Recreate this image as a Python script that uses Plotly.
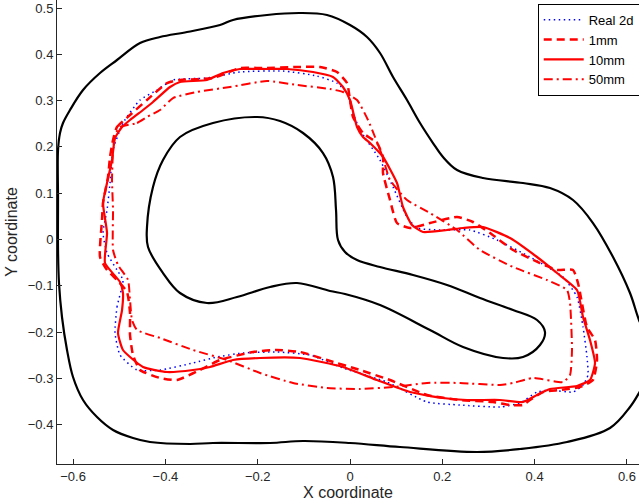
import plotly.graph_objects as go

# ---- data (data units) ----
outer_x = [-0.6327, -0.6327, -0.6327, -0.6284, -0.6219, -0.6067, -0.5785, -0.5417, -0.5049, -0.4550,
           -0.4117, -0.3532, -0.2817, -0.2535, -0.1798, -0.1083, -0.0498, 0.0000, 0.0368, 0.0650,
           0.0932, 0.1235, 0.1517, 0.1798, 0.2015, 0.2319, 0.2882, 0.3749, 0.4334, 0.4832,
           0.5265, 0.5699, 0.6067, 0.6262, 0.6544, 0.6457, 0.6262, 0.6067, 0.5634, 0.4702,
           0.3684, 0.2752, 0.1083, 0.0000, -0.1018, -0.1733, -0.2969, -0.3467, -0.4334, -0.4702,
           -0.5135, -0.5482, -0.5785, -0.6002, -0.6132, -0.6241, -0.6306]
outer_y = [-0.0227, 0.0853, 0.1933, 0.2300, 0.2516, 0.2797, 0.3229, 0.3596, 0.3877, 0.4244,
           0.4374, 0.4482, 0.4633, 0.4741, 0.4849, 0.4892, 0.4849, 0.4633, 0.4374, 0.4028,
           0.3510, 0.3013, 0.2516, 0.2084, 0.1782, 0.1501, 0.1328, 0.1220, 0.1112, 0.0853,
           0.0356, -0.0378, -0.1156, -0.1739, -0.2387, -0.2927, -0.3315, -0.3618, -0.4071, -0.4374,
           -0.4525, -0.4590, -0.4482, -0.4395, -0.4352, -0.4395, -0.4395, -0.4417, -0.4374, -0.4287,
           -0.4114, -0.3834, -0.3467, -0.2970, -0.2387, -0.1674, -0.0940]

inner_x = [-0.2015, -0.1517, -0.1018, -0.0585, -0.0368, -0.0303, -0.0260, -0.0108, 0.0152, 0.0650,
           0.1365, 0.2102, 0.2817, 0.3532, 0.4052, 0.4225, 0.4117, 0.3749, 0.3315, 0.2449,
           0.1733, 0.0650, -0.0108, -0.0433, -0.1148, -0.1733, -0.2449, -0.3099, -0.3684, -0.4052,
           -0.4377, -0.4399, -0.4269, -0.4052, -0.3684, -0.2969]
inner_y = [0.2646, 0.2559, 0.2300, 0.1868, 0.1350, 0.0637, -0.0011, -0.0270, -0.0443, -0.0594,
           -0.0767, -0.0983, -0.1264, -0.1523, -0.1739, -0.1998, -0.2279, -0.2538, -0.2559, -0.2322,
           -0.1955, -0.1415, -0.1177, -0.1112, -0.0940, -0.1026, -0.1242, -0.1372, -0.1156, -0.0724,
           -0.0162, 0.0270, 0.1134, 0.1717, 0.2214, 0.2516]

real_x = [-0.5092, -0.5049, -0.4919, -0.5049, -0.5265, -0.5352, -0.5265, -0.5200, -0.5135, -0.4919,
          -0.4550, -0.4182, -0.3835, -0.3099, -0.2384, -0.1452, -0.0715, -0.0282, -0.0065, 0.0065,
          0.0217, 0.0650, 0.0932, 0.1235, 0.1452, 0.1950, 0.2600, 0.3185, 0.3900, 0.4615,
          0.4919, 0.5049, 0.5135, 0.5157, 0.5049, 0.4832, 0.4334, 0.4052, 0.3684, 0.3250,
          0.2384, 0.1668, 0.0802, -0.0152, -0.0867, -0.1582, -0.2319, -0.2882, -0.3402, -0.4117,
          -0.4615, -0.4984]
real_y = [-0.2019, -0.1458, -0.0875, -0.0659, -0.0292, 0.0140, 0.0637, 0.1220, 0.1933, 0.2516,
          0.3013, 0.3229, 0.3445, 0.3488, 0.3618, 0.3639, 0.3531, 0.3380, 0.3164, 0.2732,
          0.2365, 0.1717, 0.1134, 0.0486, 0.0248, 0.0205, 0.0205, -0.0011, -0.0378, -0.0810,
          -0.1242, -0.1890, -0.2538, -0.2927, -0.3143, -0.3294, -0.3251, -0.3294, -0.3531, -0.3618,
          -0.3575, -0.3510, -0.3078, -0.2775, -0.2495, -0.2430, -0.2451, -0.2538, -0.2667, -0.2819,
          -0.2819, -0.2495]

mm1_x = [-0.5135, -0.5049, -0.4767, -0.4399, -0.3965, -0.3684, -0.2969, -0.2384, -0.1885, -0.1148,
         -0.0650, -0.0282, -0.0065, 0.0000, 0.0065, 0.0282, 0.0585, 0.0715, 0.0715, 0.0867,
         0.1018, 0.1300, 0.1733, 0.2319, 0.2665, 0.3034, 0.3532, 0.4117, 0.4485, 0.4832,
         0.4940, 0.5135, 0.5309, 0.5352, 0.5265, 0.4984, 0.4550, 0.4182, 0.3900, 0.3749,
         0.3467, 0.3099, 0.2384, 0.1668, 0.0867, 0.0217, -0.0498, -0.1083, -0.1582, -0.2102,
         -0.2817, -0.3250, -0.3749, -0.4117, -0.4550, -0.4702, -0.4767, -0.4767, -0.4832, -0.5049,
         -0.5265, -0.5417, -0.5374, -0.5352, -0.5244, -0.5200]
mm1_y = [0.2149, 0.2430, 0.2689, 0.3013, 0.3380, 0.3445, 0.3488, 0.3704, 0.3704, 0.3726,
         0.3726, 0.3618, 0.3380, 0.3013, 0.2646, 0.2300, 0.2084, 0.1782, 0.1436, 0.0853,
         0.0356, 0.0248, 0.0356, 0.0486, 0.0378, 0.0140, -0.0227, -0.0508, -0.0659, -0.0659,
         -0.0940, -0.1890, -0.2171, -0.2603, -0.3035, -0.3186, -0.3251, -0.3294, -0.3467, -0.3575,
         -0.3575, -0.3510, -0.3467, -0.3359, -0.3035, -0.2819, -0.2603, -0.2430, -0.2387, -0.2430,
         -0.2603, -0.2819, -0.3035, -0.2991, -0.2819, -0.2495, -0.2063, -0.1587, -0.1134, -0.0875,
         -0.0659, -0.0378, 0.0421, 0.0788, 0.1350, 0.1782]

mm10_x = [-0.5027, -0.4940, -0.4919, -0.4984, -0.5309, -0.5265, -0.5352, -0.5265, -0.5157, -0.5092,
          -0.4940, -0.4767, -0.4485, -0.4269, -0.3900, -0.3684, -0.3099, -0.2752, -0.2384, -0.1798,
          -0.1365, -0.0802, -0.0368, -0.0152, 0.0000, 0.0152, 0.0282, 0.0433, 0.0715, 0.1018,
          0.1148, 0.1343, 0.1582, 0.2102, 0.2449, 0.2882, 0.3467, 0.4052, 0.4485, 0.4919,
          0.5049, 0.5200, 0.5309, 0.5200, 0.4919, 0.4334, 0.4052, 0.3749, 0.3250, 0.2535,
          0.2015, 0.1300, 0.0585, -0.0152, -0.1083, -0.1950, -0.2535, -0.3034, -0.3402, -0.3965,
          -0.4485, -0.4919]
mm10_y = [-0.2019, -0.1523, -0.1156, -0.0918, -0.0508, 0.0140, 0.0788, 0.1220, 0.1717, 0.2192,
          0.2430, 0.2581, 0.2797, 0.2970, 0.3294, 0.3402, 0.3445, 0.3596, 0.3683, 0.3683,
          0.3683, 0.3618, 0.3510, 0.3294, 0.3013, 0.2430, 0.2214, 0.2084, 0.1782, 0.1220,
          0.0702, 0.0313, 0.0162, 0.0205, 0.0248, 0.0270, 0.0032, -0.0378, -0.0724, -0.1091,
          -0.1674, -0.2171, -0.2667, -0.3035, -0.3164, -0.3229, -0.3359, -0.3510, -0.3467, -0.3467,
          -0.3423, -0.3294, -0.3035, -0.2754, -0.2559, -0.2559, -0.2603, -0.2754, -0.2819, -0.2862,
          -0.2754, -0.2387]

mm50_x = [-0.4984, -0.4615, -0.4399, -0.4117, -0.3835, -0.3315, -0.2600, -0.1798, -0.1148, -0.0433,
          -0.0152, 0.0152, 0.0390, 0.0542, 0.0693, 0.0867, 0.1235, 0.1733, 0.2319, 0.2817,
          0.3532, 0.4269, 0.4702, 0.4767, 0.4810, 0.4767, 0.4615, 0.3965, 0.3532, 0.3250,
          0.2384, 0.1668, 0.0932, 0.0217, -0.0498, -0.1235, -0.1950, -0.2665, -0.3402, -0.4117,
          -0.4615, -0.4724, -0.4767, -0.4810, -0.5027, -0.5135, -0.5135, -0.5157, -0.5135, -0.5092]
mm50_y = [0.2430, 0.2516, 0.2646, 0.2797, 0.3056, 0.3186, 0.3294, 0.3423, 0.3337, 0.3251,
          0.3186, 0.3013, 0.2581, 0.2214, 0.1825, 0.1285, 0.0853, 0.0572, 0.0205, -0.0227,
          -0.0594, -0.0875, -0.1091, -0.1372, -0.2387, -0.2927, -0.3078, -0.2991, -0.3099, -0.3143,
          -0.3099, -0.3099, -0.3186, -0.3229, -0.3207, -0.3099, -0.2883, -0.2603, -0.2387, -0.2127,
          -0.1955, -0.1739, -0.1307, -0.0875, -0.0551, -0.0227, 0.0637, 0.1285, 0.1933, 0.2257]

x_ticks = [-0.6, -0.4, -0.2, 0, 0.2, 0.4, 0.6]
y_ticks = [-0.4, -0.3, -0.2, -0.1, 0, 0.1, 0.2, 0.3, 0.4, 0.5]


def closed(xs, ys):
    return xs + xs[:1], ys + ys[:1]


fig = go.Figure()

ox, oy = closed(outer_x, outer_y)
ix, iy = closed(inner_x, inner_y)
fig.add_trace(go.Scatter(x=ox, y=oy, mode="lines", showlegend=False, hoverinfo="skip",
                         line=dict(color="black", width=2.2, shape="spline", smoothing=1)))
fig.add_trace(go.Scatter(x=ix, y=iy, mode="lines", showlegend=False, hoverinfo="skip",
                         line=dict(color="black", width=2.2, shape="spline", smoothing=1)))

rx, ry = closed(real_x, real_y)
fig.add_trace(go.Scatter(x=rx, y=ry, mode="lines", name="Real 2d",
                         line=dict(color="#0000ff", width=1.5, dash="1.5px,3.5px", shape="spline", smoothing=0.5)))
ax, ay = closed(mm1_x, mm1_y)
fig.add_trace(go.Scatter(x=ax, y=ay, mode="lines", name="1mm",
                         line=dict(color="#ff0000", width=2.5, dash="8px,5px", shape="spline", smoothing=0.5)))
bx, by = closed(mm10_x, mm10_y)
fig.add_trace(go.Scatter(x=bx, y=by, mode="lines", name="10mm",
                         line=dict(color="#ff0000", width=2.2, shape="spline", smoothing=0.5)))
cx, cy = closed(mm50_x, mm50_y)
fig.add_trace(go.Scatter(x=cx, y=cy, mode="lines", name="50mm",
                         line=dict(color="#ff0000", width=2, dash="9px,4px,2px,4px", shape="spline", smoothing=0.5)))

font = dict(family="Liberation Sans, Arial, Helvetica, sans-serif", size=13, color="#262626")

fig.update_layout(
    width=639, height=504,
    margin=dict(l=57, r=0, t=0, b=40, autoexpand=False),
    paper_bgcolor="white", plot_bgcolor="white",
    font=font,
    showlegend=True,
    legend=dict(x=0.826, y=0.992, xanchor="left", yanchor="top",
                bgcolor="white", bordercolor="black", borderwidth=1,
                font=dict(family=font["family"], size=13, color="black"),
                itemwidth=40, tracegroupgap=0),
    xaxis=dict(range=[-0.6349, 0.6262], tickvals=x_ticks, ticks="inside", ticklen=5,
               tickcolor="#262626", showline=True, linecolor="#262626", linewidth=1,
               showgrid=False, zeroline=False, title=dict(text="X coordinate", standoff=4),
               tickformat=".1~f"),
    yaxis=dict(range=[-0.4849, 0.5173], tickvals=y_ticks, ticks="inside", ticklen=5,
               tickcolor="#262626", showline=True, linecolor="#262626", linewidth=1,
               showgrid=False, zeroline=False, title=dict(text="Y coordinate", standoff=6),
               tickformat=".1~f"),
)

fig.write_html("out.html", config={"displayModeBar": False},
               post_script="document.body.style.margin='0';document.body.style.overflow='hidden';")
